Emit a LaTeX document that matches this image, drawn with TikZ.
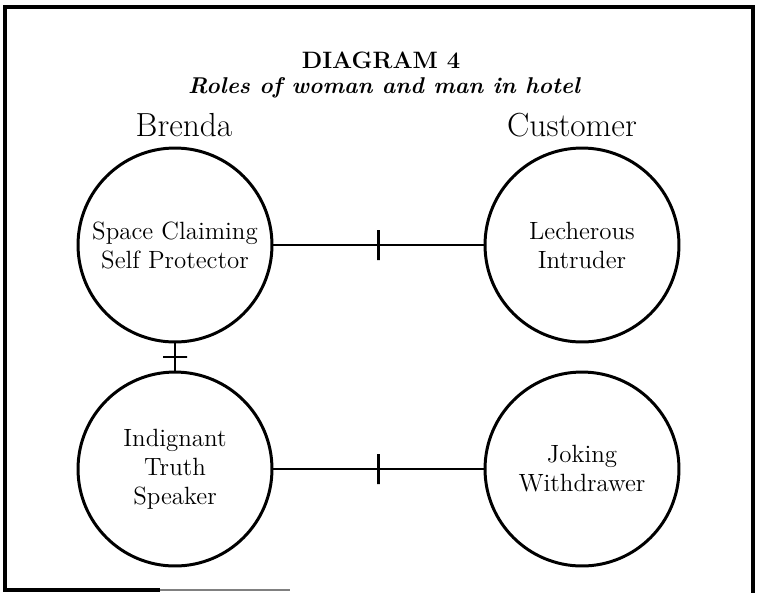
\documentclass[tikz,border=0pt]{standalone}
\usepackage{tikz}
\usetikzlibrary{positioning}

\begin{document}
\begin{tikzpicture}[
  x=0.02cm, y=-0.02cm,
  role/.style={draw, circle, line width=1.7pt, minimum size=3.88cm, inner sep=0pt,
    align=center, font=\fontsize{14.2}{16.5}\selectfont},
  who/.style={inner sep=0pt, font=\fontsize{19}{22}\selectfont},
  link/.style={line width=1.4pt},
  vtick/.style={draw, line width=1.4pt, minimum width=0pt, minimum height=0.6cm, inner sep=0pt},
  htick/.style={draw, line width=1.4pt, minimum width=0.48cm, minimum height=0pt, inner sep=0pt},
]
\useasboundingbox (0,0) rectangle (757,593);

% Frame (bottom edge only partly printed)
\draw[line width=2pt] (160,590) -- (5,590) -- (5,7) -- (753,7) -- (753,593);
\draw[gray, line width=1pt] (160,590) -- (290,590);

% Heading
\node[inner sep=1pt, font=\fontsize{13.5}{16}\selectfont\bfseries] (title) at (381,60) {DIAGRAM 4};
\node[inner sep=1pt, font=\fontsize{13}{16}\selectfont\bfseries\itshape] (sub) at (384,88) {Roles of woman and man in hotel};

% Roles
\node[role] (spc) at (175,245) {Space Claiming\\Self Protector};
\node[role] (lech) at (582,245) {Lecherous\\Intruder};
\node[role] (indig) at (175,469) {Indignant\\Truth\\Speaker};
\node[role] (joke) at (582,469) {Joking\\Withdrawer};

% Persons
\node[who, above=0.18cm of spc, xshift=0.18cm] (brenda) {Brenda};
\node[who, above=0.18cm of lech, xshift=-0.2cm] (cust) {Customer};

% Links with cross ticks
\draw[link] (spc) -- node[midway, vtick] {} (lech);
\draw[link] (indig) -- node[midway, vtick] {} (joke);
\draw[link] (spc) -- node[midway, htick] {} (indig);
\end{tikzpicture}
\end{document}
